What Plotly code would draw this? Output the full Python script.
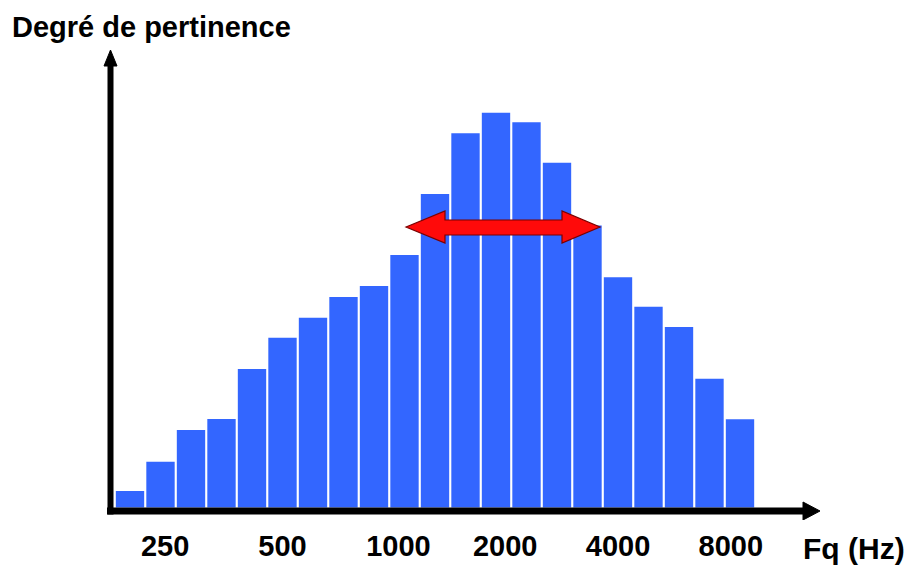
import plotly.graph_objects as go

# ---- data ----
band_index = list(range(21))
relevance = [16.5, 45.8, 77.5, 88.5, 138.5, 169.8, 189.8, 210.5, 221.5, 252.5,
             313.5, 374.2, 394.8, 385.2, 344.8, 282.0, 230.2, 200.8, 180.5, 128.8, 88.2]
tick_pos = [1.15, 5.0, 8.8, 12.3, 16.0, 19.7]
tick_labels = ["250", "500", "1000", "2000", "4000", "8000"]
y_title = "Degré de pertinence"
x_title = "Fq (Hz)"

# ---- layout geometry (page pixels; body margin removed below) ----
W, H = 912, 568
PL, PR, PT, PB = 100, 832, 40, 520          # plot area on the page
ML, MR, MT, MB = PL, W - PR, PT, H - PB
PX_PER_BAR = 30.5
BAR0_CENTER = 130.0
BASE_PX = 507.5
x_lo = (PL - BAR0_CENTER) / PX_PER_BAR
x_hi = (PR - BAR0_CENTER) / PX_PER_BAR
y_lo = BASE_PX - PB
y_hi = BASE_PX - PT


def X(px):
    return (px - BAR0_CENTER) / PX_PER_BAR


def Y(py):
    return BASE_PX - py


def paper_x(px):
    return (px - PL) / (PR - PL)


def paper_y(py):
    return (PB - py) / (PB - PT)


FONT = "Liberation Sans, Arial, sans-serif"

fig = go.Figure()
fig.add_trace(go.Bar(
    x=band_index, y=relevance, width=0.93,
    marker=dict(color="#3366FF", line=dict(width=0)),
    hoverinfo="skip",
))

shapes = []
# x axis line + arrowhead
shapes.append(dict(type="line", xref="x", yref="y", x0=X(107), x1=X(806), y0=Y(511), y1=Y(511),
                   line=dict(color="black", width=7), layer="above"))
shapes.append(dict(type="path", xref="x", yref="y",
                   path=f"M {X(803)} {Y(502)} L {X(820)} {Y(511)} L {X(803)} {Y(520)} Z",
                   fillcolor="black", line=dict(color="black", width=1), layer="above"))
# y axis line + arrowhead
shapes.append(dict(type="line", xref="x", yref="y", x0=X(110.5), x1=X(110.5), y0=Y(514.5), y1=Y(63),
                   line=dict(color="black", width=6), layer="above"))
shapes.append(dict(type="path", xref="x", yref="y",
                   path=f"M {X(104)} {Y(66)} L {X(110.5)} {Y(50)} L {X(117)} {Y(66)} Z",
                   fillcolor="black", line=dict(color="black", width=1), layer="above"))
# red double arrow
pts = [(406, 227), (445, 211), (445, 220), (562, 220), (562, 211), (600, 227),
       (562, 243), (562, 235), (445, 235), (445, 243)]
path = "M " + " L ".join(f"{X(a)} {Y(b)}" for a, b in pts) + " Z"
shapes.append(dict(type="path", xref="x", yref="y", path=path,
                   fillcolor="#FF0A0A", line=dict(color="#7A0000", width=1.2), layer="above"))

annotations = [
    dict(text=f"<b>{y_title}</b>", xref="paper", yref="paper", x=paper_x(10), y=paper_y(27),
         xanchor="left", yanchor="middle", showarrow=False,
         font=dict(family=FONT, size=29, color="black")),
    dict(text=f"<b>{x_title}</b>", xref="paper", yref="paper", x=paper_x(854), y=paper_y(548),
         xanchor="center", yanchor="middle", showarrow=False,
         font=dict(family=FONT, size=30, color="black")),
]

fig.update_layout(
    width=W, height=H,
    margin=dict(l=ML, r=MR, t=MT, b=MB, pad=0, autoexpand=False),
    paper_bgcolor="white", plot_bgcolor="white",
    showlegend=False,
    shapes=shapes, annotations=annotations,
    xaxis=dict(range=[x_lo, x_hi], showgrid=False, zeroline=False, showline=False,
               automargin=False,
               tickmode="array", tickvals=tick_pos, ticktext=tick_labels, ticks="",
               ticklabelstandoff=6,
               tickfont=dict(family=FONT, size=29, color="black", weight="bold"),
               fixedrange=True),
    yaxis=dict(range=[y_lo, y_hi], showgrid=False, zeroline=False, showline=False,
               automargin=False,
               showticklabels=False, ticks="", fixedrange=True),
)

fig.write_html(
    "out.html",
    config={"displayModeBar": False, "staticPlot": True},
    post_script="document.body.style.margin='0';document.body.style.overflow='hidden';",
)
